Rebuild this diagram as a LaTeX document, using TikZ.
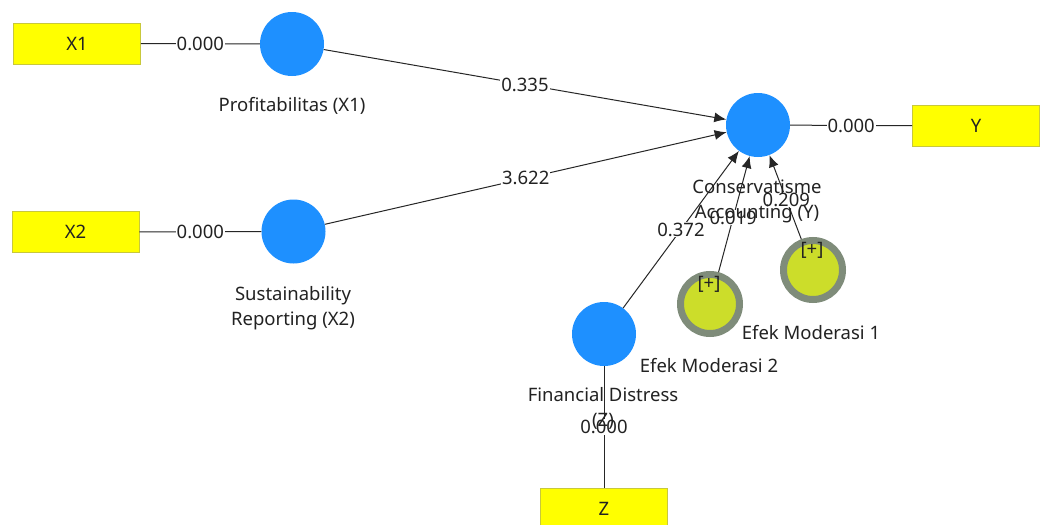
\documentclass[tikz,border=0pt]{standalone}
\usepackage{fontspec}
\setmainfont{Noto Sans}
\usetikzlibrary{arrows.meta}
\definecolor{lvblue}{HTML}{1E90FF}
\definecolor{indyel}{HTML}{FFFF00}
\definecolor{indborder}{HTML}{C8C83C}
\definecolor{modring}{HTML}{7F8C7A}
\definecolor{modfill}{HTML}{CCDD2A}
\definecolor{txt}{HTML}{222222}
\begin{document}
\begin{tikzpicture}[x=1pt,y=-1pt,
  every node/.style={font=\fontsize{18.5}{25}\selectfont, text=txt},
  latent/.style={circle, fill=lvblue, minimum size=64pt, inner sep=0pt},
  moder/.style={circle, fill=modfill, draw=modring, line width=7pt, minimum size=59pt, inner sep=0pt},
  indic/.style={rectangle, fill=indyel, draw=indborder, line width=0.8pt, minimum width=127pt, minimum height=41pt, inner sep=0pt},
  lbl/.style={fill=white, inner sep=1pt},
  conn/.style={draw=black!85, line width=1pt},
  path/.style={conn, -{Latex[length=12pt,width=10pt]}},
  nm/.style={align=center, inner sep=0pt}
]
\clip (0,0) rectangle (1042,525);
\useasboundingbox (0,0) rectangle (1042,525);
\fill[white] (0,0) rectangle (1042,525);

% indicators
\node[indic] (bx1) at (77,43.5) {X1};
\node[indic] (bx2) at (75.5,232) {X2};
\node[indic] (by) at (976,126) {Y};
\node[indic] (bz) at (604,508.5) {Z};

% latent variables
\node[latent] (x1) at (292,44) {};
\node[latent] (x2) at (293.5,231.5) {};
\node[latent] (y) at (758,125) {};
\node[latent] (z) at (604,334) {};
\node[moder] (m2) at (710,304) {};
\node[moder] (m1) at (813,270) {};

% outer connectors
\draw[conn] (bx1) -- node[lbl]{0.000} (x1);
\draw[conn] (bx2) -- node[lbl]{0.000} (x2);
\draw[conn] (y) -- node[lbl]{0.000} (by);
\draw[conn] (z) -- node[lbl, pos=0.5]{0.000} (bz);

% structural paths
\draw[path] (x1) -- node[lbl, pos=0.5]{0.335} (y);
\draw[path] (x2) -- node[lbl, pos=0.5]{3.622} (y);
\draw[path] (z) -- node[lbl, pos=0.5]{0.372} (y);
\draw[path] (m2) -- node[lbl, pos=0.47]{0.019} (y);
\draw[path] (m1) -- node[lbl, pos=0.47]{0.209} (y);

% names
\node[nm] (nx1) at (292,106) {Profitabilitas (X1)};
\node[nm] (nx2) at (293,308) {Sustainability\\Reporting (X2)};
\node[nm] (ny) at (757,201) {Conservatisme\\Accounting (Y)};
\node[nm] (nz) at (603,408) {Financial Distress\\(Z)};
\node[nm] (nm1) at (811,333) {Efek Moderasi 1};
\node[nm] (nm2) at (709,366) {Efek Moderasi 2};
\node[nm] (p2) at (709,284) {[+]};
\node[nm] (p1) at (812,250) {[+]};
\end{tikzpicture}
\end{document}
